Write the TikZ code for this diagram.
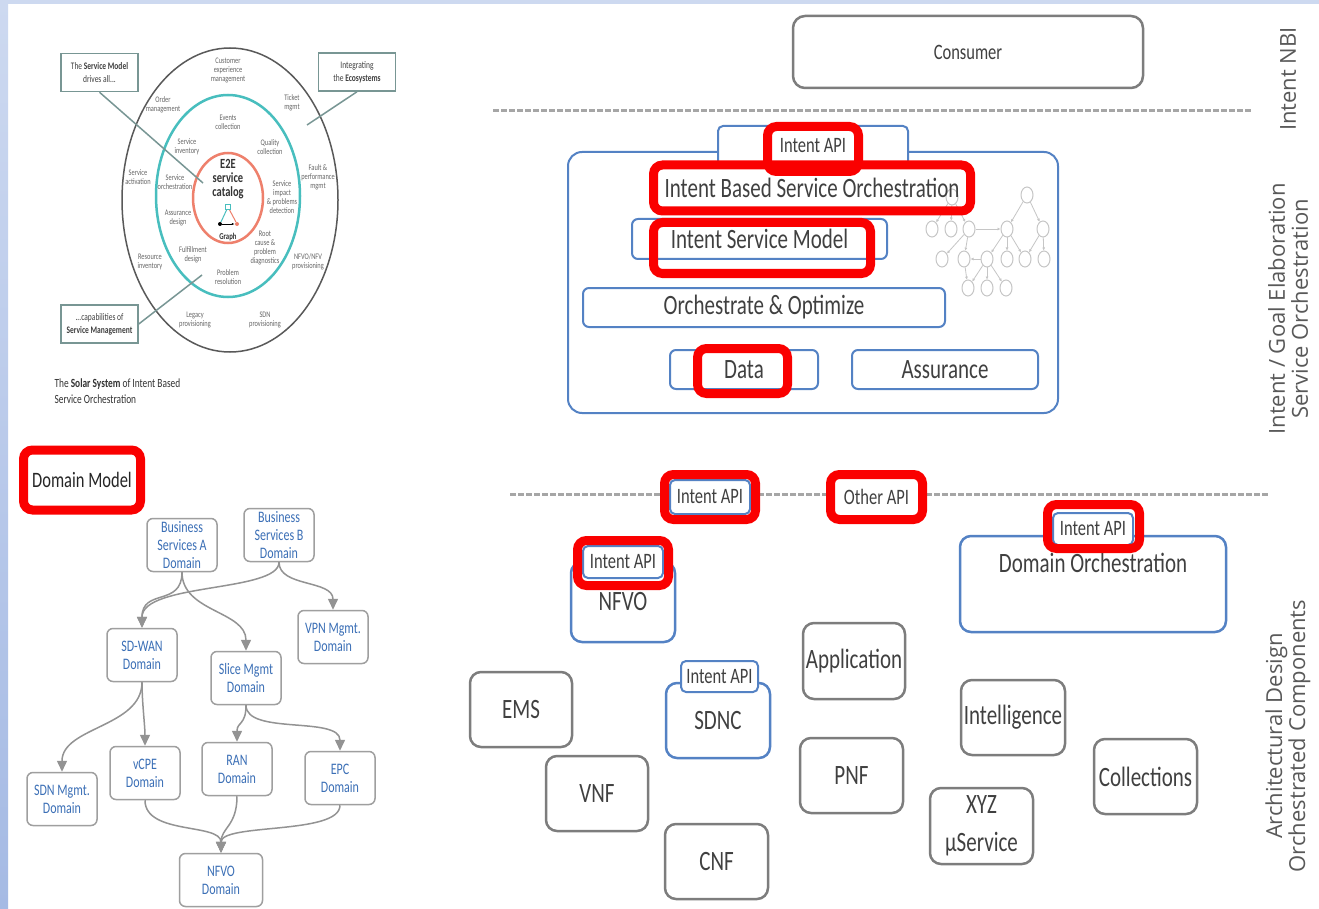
\documentclass[tikz,border=0pt]{standalone}
\usepackage{fontspec}
\setmainfont{Carlito}[FakeStretch=0.75]
\newfontfamily\sidefont{Open Sans}
\usetikzlibrary{arrows.meta,shapes.geometric}

\definecolor{boxblue}{RGB}{84,130,196}
\definecolor{boxgray}{RGB}{125,125,125}
\definecolor{txtgray}{RGB}{64,64,64}
\definecolor{domblue}{RGB}{59,111,182}
\definecolor{orbteal}{RGB}{72,190,190}
\definecolor{orbsalmon}{RGB}{238,128,108}
\definecolor{calloutline}{RGB}{120,150,148}
\definecolor{stripblue}{RGB}{205,217,240}
\definecolor{stripdark}{RGB}{165,186,228}
\definecolor{hired}{RGB}{250,0,0}

\tikzset{
  comp/.style={draw=boxgray, line width=2.5pt, rounded corners=11pt, fill=white, text=txtgray,
    font=\fontsize{28}{34}\selectfont, align=center, minimum width=102pt, minimum height=75pt, inner sep=1pt},
  bluecomp/.style={comp, draw=boxblue},
  bar/.style={draw=boxblue, line width=2pt, rounded corners=6pt, fill=white, text=txtgray,
    font=\fontsize{28}{32}\selectfont, minimum height=39pt, inner sep=1pt},
  apitab/.style={draw=boxblue, line width=2pt, rounded corners=5pt, fill=white, text=txtgray,
    font=\fontsize{22}{24}\selectfont, minimum width=80pt, minimum height=32pt, inner sep=1pt},
  hilite/.style={draw=hired, line width=9pt, rounded corners=9pt, text=black!85, inner sep=0pt},
  dom/.style={draw=gray!75, line width=1.5pt, rounded corners=6pt, fill=white, text=domblue,
    font=\fontsize{16}{18}\selectfont, align=center, minimum width=70pt, minimum height=53pt, inner sep=1pt},
  domedge/.style={draw=gray!85, line width=1.5pt, -{Triangle[length=11pt,width=10pt]}},
  orb/.style={text=black!60, font=\fontsize{8.5}{9}\selectfont, align=center, inner sep=0pt},
  callout/.style={draw=calloutline, line width=1.5pt, text=black!75, font=\fontsize{10}{13}\selectfont,
    align=center, minimum width=77pt, minimum height=38pt, inner sep=1pt},
  gnode/.style={ellipse, draw=gray!45, line width=1pt, minimum width=12pt, minimum height=16pt, inner sep=0pt},
  gedge/.style={draw=gray!45, line width=0.8pt, -{Latex[length=3pt,width=3pt]}},
  sep/.style={draw=gray!70, line width=3pt, dash pattern=on 6pt off 2pt},
  sidelabel/.style={rotate=90, font=\sidefont\fontsize{22}{23}\selectfont, text=black!65, align=center}
}

\begin{document}
\begin{tikzpicture}[x=1pt, y=-1pt]
\useasboundingbox (0,0) rectangle (1319,909);
\fill[white] (0,0) rectangle (1319,909);
\shade[top color=stripblue, bottom color=stripdark] (0,0) rectangle (8,909);
\fill[stripblue] (0,0) rectangle (1319,4);

% solar system
\draw[black!65, line width=1.5pt] (230,200) ellipse [x radius=108, y radius=152];
\draw[orbteal, line width=2.5pt] (228,196) ellipse [x radius=72, y radius=101];
\draw[orbsalmon, line width=2.5pt] (228,198) ellipse [x radius=35, y radius=45];

\node[orb] (cem) at (228,70) {Customer\\experience\\management};
\node[orb] (ordm) at (163,105) {Order\\management};
\node[orb] (tick) at (292,103) {Ticket\\mgmt};
\node[orb] (evc) at (228,122) {Events\\collection};
\node[orb] (sinv) at (187,147) {Service\\inventory};
\node[orb] (qual) at (270,147) {Quality\\collection};
\node[orb] (sact) at (138,177) {Service\\activation};
\node[orb] (sorch) at (175,182) {Service\\orchestration};
\node[orb] (fault) at (318,177) {Fault \&\\performance\\mgmt};
\node[orb] (simp) at (282,197) {Service\\impact\\\& problems\\detection};
\node[orb] (asd) at (178,218) {Assurance\\design};
\node[orb] (rca) at (265,248) {Root\\cause \&\\problem\\diagnostics};
\node[orb] (fuld) at (193,255) {Fulfillment\\design};
\node[orb] (rinv) at (150,262) {Resource\\inventory};
\node[orb] (nfvp) at (308,262) {NFVO/NFV\\provisioning};
\node[orb] (pres) at (228,277) {Problem\\resolution};
\node[orb] (legp) at (195,320) {Legacy\\provisioning};
\node[orb] (sdnp) at (265,320) {SDN\\provisioning};

\node[text=black!80, font=\bfseries\fontsize{14}{14}\selectfont, align=center] (e2e) at (228,179) {E2E\\service\\catalog};
\node[draw=orbteal, line width=1pt, minimum size=5pt, inner sep=0pt] (gsq) at (228,207) {};
\node[circle, fill=black, minimum size=4pt, inner sep=0pt] (gblk) at (220,224) {};
\node[circle, fill=orbsalmon, minimum size=4pt, inner sep=0pt] (gred) at (237,224) {};
\draw[orbteal, line width=1pt] (gsq) -- (gblk);
\draw[orbsalmon, line width=1pt] (gsq) -- (gred);
\draw[black, line width=0.8pt, -{Latex[length=3pt]}] (gblk) -- (gred);
\node[text=black!80, font=\bfseries\fontsize{9}{9}\selectfont] (graph) at (228,237) {Graph};

\node[callout] (smbox) at (99.5,72.5) {The \textbf{Service Model}\\drives all...};
\node[callout] (ecobox) at (357,72) {Integrating\\the \textbf{Ecosystems}};
\node[callout] (capbox) at (99.5,324) {...capabilities of\\\textbf{Service Management}};
\coordinate (smtip) at (203,183);
\coordinate (ecotip) at (307,125);
\coordinate (captip) at (202,275);
\draw[calloutline, line width=1.5pt] (smbox.south) -- (smtip);
\draw[calloutline, line width=1.5pt] (ecobox.south) -- (ecotip);
\draw[calloutline, line width=1.5pt] (capbox.east) -- (captip);
\node[anchor=west, align=left, text=black!80, font=\fontsize{12.5}{16}\selectfont] (solar) at (51,391)
  {The \textbf{Solar System} of Intent Based\\Service Orchestration};

% domain model
\node[hilite, fill=white, minimum width=117pt, minimum height=60pt, font=\fontsize{22}{24}\selectfont] (dmodel) at (82,480) {Domain Model};
\node[dom] (bsa) at (182,545) {Business\\Services A\\Domain};
\node[dom] (bsb) at (279,535) {Business\\Services B\\Domain};
\node[dom] (sdwan) at (142,655) {SD-WAN\\Domain};
\node[dom] (slice) at (246,678) {Slice Mgmt\\Domain};
\node[dom] (vpn) at (333,637) {VPN Mgmt.\\Domain};
\node[dom] (sdn) at (62,799) {SDN Mgmt.\\Domain};
\node[dom] (vcpe) at (145,773) {vCPE\\Domain};
\node[dom] (ran) at (237,769) {RAN\\Domain};
\node[dom] (epc) at (340,778) {EPC\\Domain};
\node[dom, minimum width=83pt] (nfvod) at (221,880) {NFVO\\Domain};

\draw[domedge] (bsa.south) .. controls +(0,35) and +(0,-40) .. (sdwan.north);
\draw[domedge] (bsb.south) .. controls +(0,30) and +(0,-45) .. (sdwan.north);
\draw[domedge] (bsa.south) .. controls +(0,40) and +(0,-40) .. (slice.north);
\draw[domedge] (bsb.south) .. controls +(0,25) and +(0,-30) .. (vpn.north);
\draw[domedge] (sdwan.south) .. controls +(0,45) and +(0,-45) .. (sdn.north);
\draw[domedge] (sdwan.south) .. controls +(0,20) and +(0,-20) .. (vcpe.north);
\draw[domedge] (slice.south) .. controls +(0,20) and +(0,-20) .. (ran.north);
\draw[domedge] (slice.south) .. controls +(0,30) and +(0,-35) .. (epc.north);
\draw[domedge] (vcpe.south) .. controls +(0,35) and +(0,-30) .. (nfvod.north);
\draw[domedge] (ran.south) .. controls +(0,30) and +(0,-25) .. (nfvod.north);
\draw[domedge] (epc.south) .. controls +(0,30) and +(0,-30) .. (nfvod.north);

% layer separators and labels
\coordinate (nbil) at (493,111);
\coordinate (nbir) at (1252,111);
\coordinate (sbil) at (510,494);
\coordinate (sbir) at (1268,494);
\draw[sep] (nbil) -- (nbir);
\draw[sep] (sbil) -- (sbir);
\node[sidelabel] (nbi) at (1288,79) {Intent NBI};
\node[sidelabel] (elab) at (1288,309) {Intent / Goal Elaboration\\Service Orchestration};
\node[sidelabel] (arch) at (1288,736) {Architectural Design\\Orchestrated Components};

% consumer
\node[comp, minimum width=350pt, minimum height=72pt, rounded corners=12pt, font=\fontsize{22}{24}\selectfont] (consumer) at (968,52) {Consumer};

% intent based service orchestration
\node[draw=boxblue, line width=2pt, rounded corners=14pt, minimum width=490pt, minimum height=261pt] (ibso) at (813,282.5) {};
\node[apitab, minimum width=190pt, minimum height=40pt] (ibtab) at (813,146) {Intent API};
\node[bar, minimum width=255pt, minimum height=40pt] (ism) at (759.5,239) {Intent Service Model};
\node[bar, minimum width=362pt] (orch) at (764,307.5) {Orchestrate \& Optimize};
\node[bar, minimum width=148pt] (data) at (744,369.5) {Data};
\node[bar, minimum width=186pt] (assur) at (945,369.5) {Assurance};

\foreach \n/\x/\y in {r1/952/197, r2/1027/195, a1/932/229, a2/951/229, a3/969/229, a4/1007/229, a5/1043/229,
  b1/942/259, b2/964/259, b3/987/259, b4/1007/259, b5/1025/259, b6/1044/259, c1/968/288, c2/987/288, c3/1006/288}
  \node[gnode] (\n) at (\x,\y) {};
\foreach \a/\b in {r1/a1, r1/a2, r1/a3, a3/a4, r2/a4, r2/a5, a3/b1, a3/b2, b3/b2, a4/b3, a4/b4, a4/b5,
  a5/b5, a5/b6, b3/c1, b3/c2, b3/c3, b2/c1}
  \draw[gedge] (\a) -- (\b);

\node[hilite, minimum width=91pt, minimum height=45pt] (ibtabmark) at (813,149) {};
\node[hilite, minimum width=317pt, minimum height=46pt, font=\fontsize{28}{32}\selectfont, text=txtgray] (ibsomark) at (812,188) {Intent Based Service Orchestration};
\node[hilite, minimum width=217pt, minimum height=51pt] (ismmark) at (762,248) {};
\node[hilite, minimum width=90pt, minimum height=45pt] (datamark) at (742.5,371) {};

% southbound APIs
\node[apitab, minimum height=34pt] (sbtab) at (710,497) {Intent API};
\node[hilite, minimum width=91pt, minimum height=45pt] (sbtabmark) at (710,497) {};
\node[hilite, fill=white, minimum width=92pt, minimum height=45pt, font=\fontsize{22}{24}\selectfont, text=txtgray] (otherapi) at (876.5,497) {Other API};

% orchestrated components
\node[bluecomp, minimum width=104pt, minimum height=80pt] (nfvo) at (623,602) {NFVO};
\node[apitab] (nfvotab) at (623,562) {Intent API};
\node[hilite, minimum width=91pt, minimum height=45pt] (nfvomark) at (623,563) {};

\node[bluecomp, minimum width=266pt, minimum height=96pt] (domorch) at (1093,584) {};
\node[text=txtgray, font=\fontsize{28}{32}\selectfont] (domorchtext) at (1093,563) {Domain Orchestration};
\node[apitab] (domtab) at (1093,529) {Intent API};
\node[hilite, minimum width=92pt, minimum height=44pt] (dommark) at (1093.5,526.5) {};

\node[comp] (ems) at (521,709.5) {EMS};
\node[comp] (vnf) at (597,793.5) {VNF};
\node[comp, minimum width=103pt] (cnf) at (716.5,861.5) {CNF};
\node[bluecomp, minimum width=104pt] (sdnc) at (718,720.5) {SDNC};
\node[apitab, minimum width=77pt, minimum height=31pt] (sdnctab) at (719.5,676.5) {Intent API};
\node[comp, minimum height=76pt] (app) at (854,661) {Application};
\node[comp, minimum width=103pt] (pnf) at (851.5,775.5) {PNF};
\node[comp, minimum width=104pt] (intel) at (1013,717.5) {Intelligence};
\node[comp, minimum width=103pt, minimum height=76pt] (xyz) at (981.5,826) {XYZ\\[4pt]µService};
\node[comp, minimum width=103pt] (coll) at (1145.5,776.5) {Collections};
\end{tikzpicture}
\end{document}
